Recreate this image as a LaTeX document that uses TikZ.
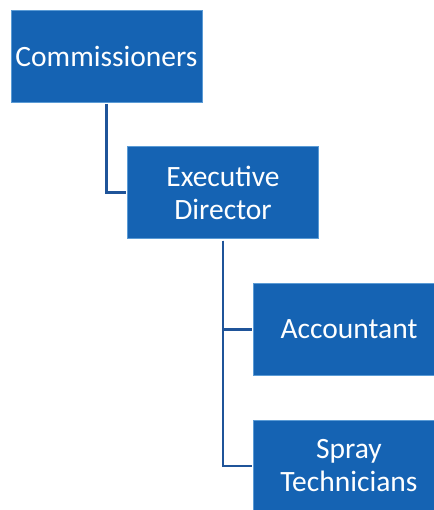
\documentclass[tikz,border=0pt]{standalone}
\usepackage{fontspec}
\setmainfont{Carlito}
\definecolor{boxblue}{HTML}{1563B3}
\definecolor{edgeblue}{HTML}{5B9BD5}
\definecolor{lineblue}{HTML}{1F5499}
\tikzset{
        post/.style={draw=edgeblue, line width=0.8pt, fill=boxblue, text=white, align=center,
            minimum width=191pt, minimum height=92pt, outer sep=2pt,
            font=\fontsize{29.5}{33}\selectfont},
        link/.style={draw=lineblue, line width=2.2pt}
    }

\begin{document}
\begin{tikzpicture}[x=1pt, y=-1pt]
            \useasboundingbox (0, 0) rectangle (433, 510);
            \node [post] (1) at (106.5, 56) {Commissioners};
            \node [post] (2) at (223, 192.5) {Executive\\Director};
            \node [post] (3) at (349, 329.5) {Accountant};
            \node [post] (4) at (349, 466) {Spray\\Technicians};

            \draw [link] (1.south) |- (2.west);
            \draw [link] (2.south) |- (3.west);
            \draw [link] (2.south) |- (4.west);
        \end{tikzpicture}
\end{document}
